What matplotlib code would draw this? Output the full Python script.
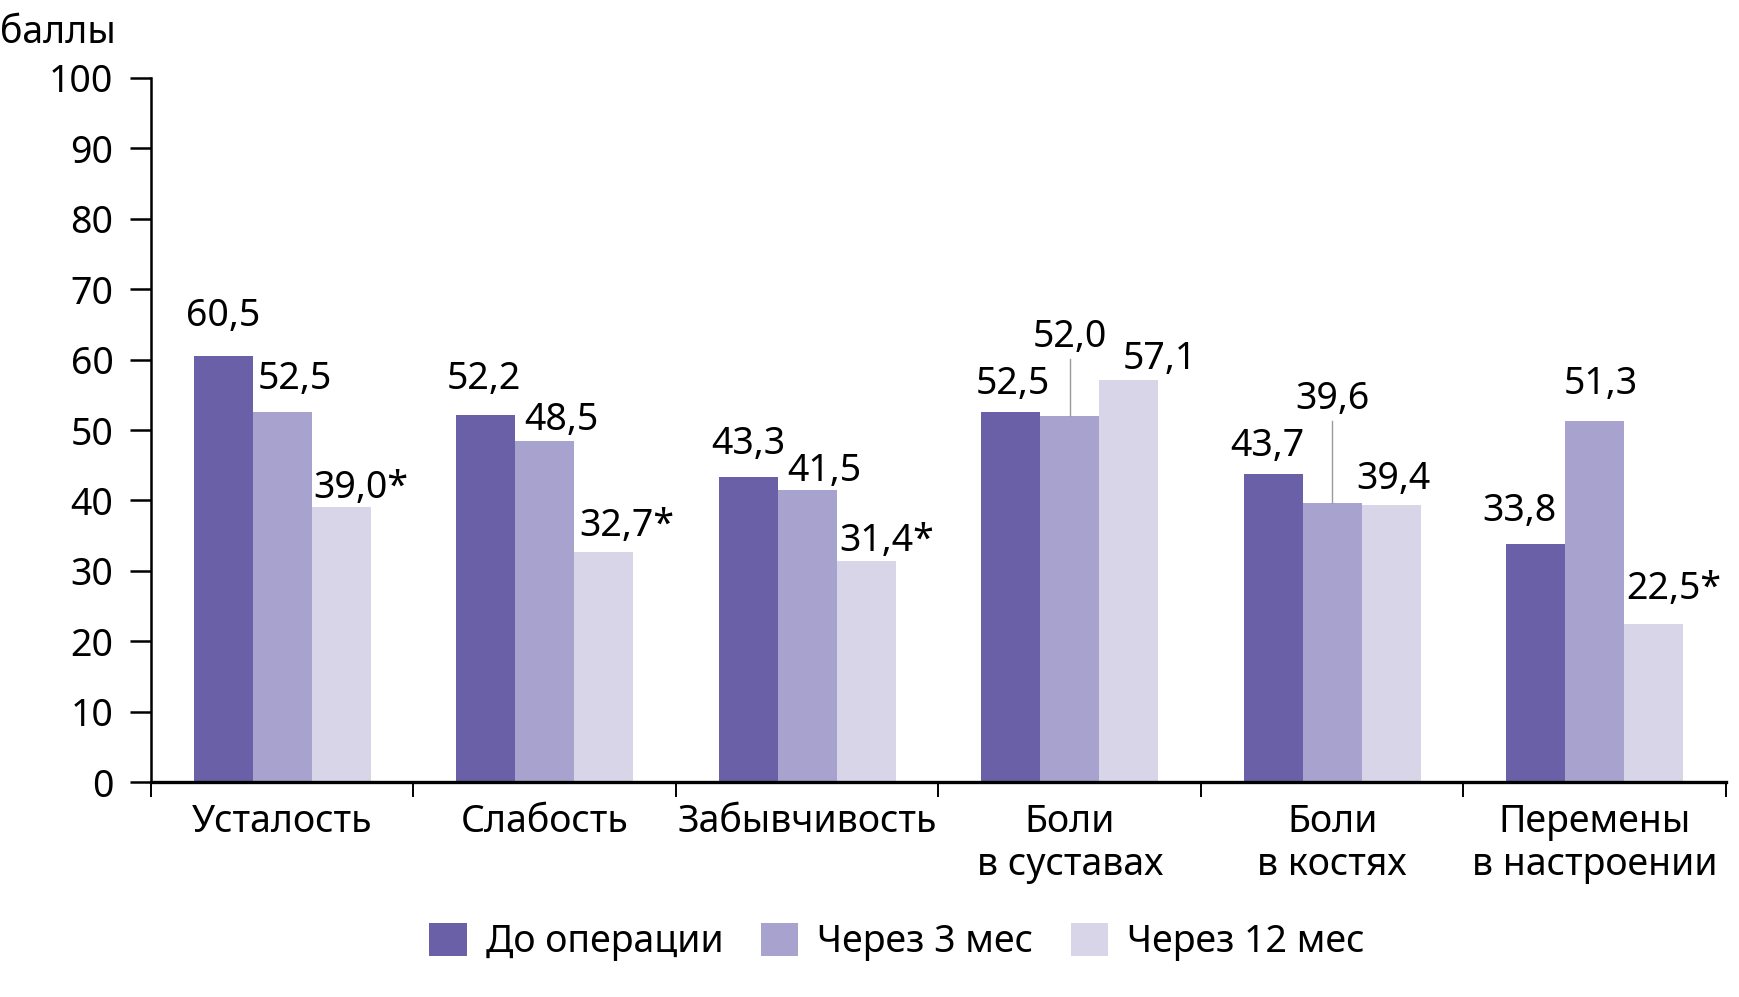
import numpy as np
import matplotlib.pyplot as plt
from matplotlib.patches import Patch

plt.rcParams['font.family'] = ['Noto Sans', 'DejaVu Sans']

# --- данные ---
categories = ['Усталость', 'Слабость', 'Забывчивость', 'Боли\nв суставах',
              'Боли\nв костях', 'Перемены\nв настроении']
series_names = ['До операции', 'Через 3 мес', 'Через 12 мес']
before = [60.5, 52.2, 43.3, 52.5, 43.7, 33.8]
after_3 = [52.5, 48.5, 41.5, 52.0, 39.6, 51.3]
after_12 = [39.0, 32.7, 31.4, 57.1, 39.4, 22.5]
# значимые различия (*)
star_12 = [True, True, True, False, False, True]

colors = ['#6960a8', '#a8a2cf', '#d8d5e9']

# --- подписи: сдвиги (px) и зазоры над столбцами (баллы) ---
lab_dx = [[0, 13, 2], [-2, 17, 5], [0, 17, 3],
          [2, 0, 31], [-6, 0, 2], [-16, 6, 2]]
lab_gap = [[4.3, 3.3, 1.3], [3.6, 1.5, 2.2], [3.3, 1.3, 1.4],
           [2.6, 9.8, 1.6], [2.6, 13.4, 2.2], [3.3, 3.8, 3.5]]
leader = [[False, False, False], [False, False, False], [False, False, False],
          [False, True, False], [False, True, False], [False, False, False]]

W, H = 1740, 997
fig = plt.figure(figsize=(W / 100, H / 100), dpi=100)
ax = fig.add_axes([151 / W, 1 - 782 / H, (1726 - 151) / W, (782 - 78) / H])

bw = 0.225
px = 1 / 262.5  # один пиксель в единицах оси x
x = np.arange(len(categories)) + 0.5
all_series = [before, after_3, after_12]
for k, vals in enumerate(all_series):
    ax.bar(x + (k - 1) * bw, vals, bw, color=colors[k], linewidth=0, zorder=2)

fs = 27
for i in range(len(categories)):
    for k, vals in enumerate(all_series):
        v = vals[i]
        cx = x[i] + (k - 1) * bw
        txt = f'{v:.1f}'.replace('.', ',')
        y = v + lab_gap[i][k]
        if k == 2 and star_12[i]:
            ax.text(cx - bw / 2 + lab_dx[i][k] * px, y, txt + '*', ha='left',
                    va='baseline', fontsize=fs)
        else:
            ax.text(cx + lab_dx[i][k] * px, y, txt, ha='center',
                    va='baseline', fontsize=fs)
        if leader[i][k]:
            ax.plot([cx, cx], [v, y - 1.7], color='#9a9a9a', lw=1, zorder=3)

ax.set_xlim(0, len(categories))
ax.set_ylim(0, 100)
ax.set_yticks(np.arange(0, 101, 10))
ax.tick_params(axis='y', length=15, width=1.8, labelsize=fs, pad=12)

ax.set_xticks(x)
ax.set_xticklabels(categories, fontsize=fs, linespacing=1.17)
ax.set_xticks(np.arange(0, len(categories) + 1), minor=True)
ax.tick_params(axis='x', which='major', length=0, pad=15)
ax.tick_params(axis='x', which='minor', length=11, width=1.4, direction='out')

for s in ['top', 'right']:
    ax.spines[s].set_visible(False)
ax.spines['left'].set_linewidth(1.8)
ax.spines['bottom'].set_linewidth(2.4)
ax.spines['bottom'].set_zorder(4)

fig.text(0.0, 1 - 43 / H, 'баллы', fontsize=fs, ha='left', va='baseline')

handles = [Patch(facecolor=c, edgecolor='none') for c in colors]
fig.legend(handles, series_names, loc='center', bbox_to_anchor=(0.5155, 1 - 942 / H),
           ncol=3, frameon=False, fontsize=fs, handlelength=1.0, handleheight=1.0,
           handletextpad=0.5, columnspacing=1.0)

fig.savefig('out.png', dpi=100)
